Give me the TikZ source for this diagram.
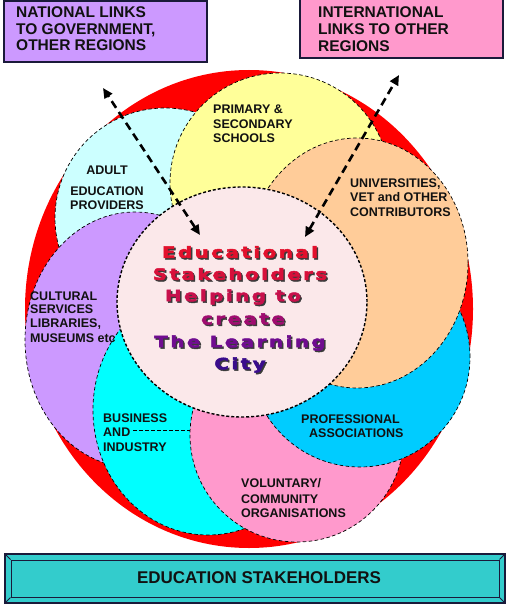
\documentclass[tikz,border=0pt]{standalone}
\usepackage{fontspec}
\setmainfont{Liberation Sans}
\newfontfamily\heavyfont{DejaVu Sans}[LetterSpace=16,FakeBold=3,FakeStretch=1.28]
\usetikzlibrary{arrows.meta}
\definecolor{ringred}{HTML}{FF0000}
\definecolor{adultc}{HTML}{CCFFFF}
\definecolor{yellowc}{HTML}{FFFF99}
\definecolor{peachc}{HTML}{FFCC99}
\definecolor{bluec}{HTML}{00CCFF}
\definecolor{pinkc}{HTML}{FF99CC}
\definecolor{cyanc}{HTML}{00FFFF}
\definecolor{purplec}{HTML}{CC99FF}
\definecolor{hubc}{HTML}{FBE8EA}
\definecolor{tealc}{HTML}{33CCCC}
\definecolor{navyline}{HTML}{1A1A3A}
\definecolor{labelc}{HTML}{111111}
\definecolor{shadowc}{HTML}{3A3A3A}
\definecolor{tA}{HTML}{E3102C}
\definecolor{tB}{HTML}{D8103A}
\definecolor{tC}{HTML}{C8104C}
\definecolor{tD}{HTML}{A00C70}
\definecolor{tE}{HTML}{700C90}
\definecolor{tF}{HTML}{3A0C8C}
\tikzset{
  petal/.style={draw=black, line width=0.7pt, dash pattern=on 3.5pt off 2.5pt},
  hub/.style={draw=black, fill=hubc, line width=1.4pt, dash pattern=on 3pt off 2pt},
  linkarrow/.style={line width=2.6pt, dash pattern=on 8pt off 5pt,
     {Triangle[length=10pt,width=9pt]}-{Triangle[length=10pt,width=9pt]}},
  petallabel/.style={font=\bfseries\fontsize{12.5pt}{14.5pt}\selectfont, text=labelc, inner sep=0pt},
  boxlabel/.style={font=\bfseries\fontsize{15.5pt}{16.5pt}\selectfont, text=labelc, inner sep=0pt, align=left, anchor=west},
  linkbox/.style={draw=navyline, line width=2pt},
  heavy/.style={font=\heavyfont\bfseries\fontsize{15.5pt}{18pt}\selectfont, inner sep=0pt},
}
\begin{document}
\begin{tikzpicture}[x=1pt,y=-1pt]
\useasboundingbox (0,0) rectangle (508,607);

% red ring background
\fill[ringred] (249,309) ellipse [x radius=224pt, y radius=239pt];

% petals
\filldraw[petal, fill=adultc] (165,218) circle [radius=110pt];
\filldraw[petal, fill=purplec] (135,340) ellipse [x radius=110pt, y radius=128pt];
\filldraw[petal, fill=cyanc] (208,410) ellipse [x radius=115pt, y radius=125pt];
\filldraw[petal, fill=pinkc] (297,435) circle [radius=107pt];
\filldraw[petal, fill=bluec] (360,357) circle [radius=110pt];
\filldraw[petal, fill=yellowc] (280,183) circle [radius=110pt];
\filldraw[petal, fill=peachc] (357,263) ellipse [x radius=111pt, y radius=125pt];

% hub
\filldraw[hub] (242,302) ellipse [x radius=125pt, y radius=115pt];

% small dashed artifact in business petal
\draw[petal] (133,430) -- (190,430);

% petal labels
\node[petallabel, anchor=west, align=left] (primary) at (213,124) {PRIMARY \&\\SECONDARY\\SCHOOLS};
\node[petallabel, align=center] (adult) at (107,188) {ADULT\\[6pt]EDUCATION\\PROVIDERS};
\node[petallabel, anchor=west, align=left] (univ) at (350,197.5) {UNIVERSITIES,\\VET and OTHER\\CONTRIBUTORS};
\node[petallabel, anchor=west, align=left] (cultural) at (30,317) {CULTURAL\\[-2pt]SERVICES\\LIBRARIES,\\MUSEUMS etc};
\node[petallabel, anchor=west, align=left] (business) at (103,432.5) {BUSINESS\\AND\\INDUSTRY};
\node[petallabel, anchor=west, align=left] (prof) at (301,426) {PROFESSIONAL\\\hspace*{8pt}ASSOCIATIONS};
\node[petallabel, anchor=west, align=left] (volunt) at (241,498) {VOLUNTARY/\\[1.5pt]COMMUNITY\\ORGANISATIONS};

% hub title (shadow then colour)
\node[heavy, text=shadowc] (s1) at (241.5,253.5) {Educational};
\node[heavy, text=tA] (t1) at (240,252) {Educational};
\node[heavy, text=shadowc] (s2) at (241.5,275.5) {Stakeholders};
\node[heavy, text=tB] (t2) at (240,274) {Stakeholders};
\node[heavy, text=shadowc] (s3) at (234.5,298.5) {Helping to};
\node[heavy, text=tC] (t3) at (233,297) {Helping to};
\node[heavy, text=shadowc] (s4) at (244.5,320.5) {create};
\node[heavy, text=tD] (t4) at (243,319) {create};
\node[heavy, text=shadowc] (s5) at (241.5,344.5) {The Learning};
\node[heavy, text=tE] (t5) at (240,343) {The Learning};
\node[heavy, text=shadowc] (s6) at (241.5,366.5) {City};
\node[heavy, text=tF] (t6) at (240,365) {City};

% link boxes
\filldraw[linkbox, fill=purplec] (4,1) rectangle (207,62);
\node[boxlabel] (national) at (16,29) {NATIONAL LINKS\\TO GOVERNMENT,\\OTHER REGIONS};
\filldraw[linkbox, fill=pinkc] (300,-6) rectangle (503,58);
\node[boxlabel, font=\bfseries\fontsize{15.5pt}{17pt}\selectfont] (intl) at (318,29.5) {INTERNATIONAL\\LINKS TO OTHER\\REGIONS};

% link arrows
\coordinate (natTip) at (103,88);
\coordinate (natBase) at (200,235);
\coordinate (intTip) at (399,75);
\coordinate (intBase) at (305,237);
\draw[linkarrow] (natBase) -- (natTip);
\draw[linkarrow] (intBase) -- (intTip);

% bottom bevelled box
\node[draw=navyline, fill=tealc, line width=1.2pt, minimum width=500pt, minimum height=49pt, inner sep=0pt] (stake) at (255,578.5) {};
\node[draw=navyline, line width=1pt, minimum width=488pt, minimum height=37pt, inner sep=0pt] (stakein) at (255,578.5) {};
\draw[navyline, line width=1pt] (stake.north west) -- (stakein.north west);
\draw[navyline, line width=1pt] (stake.north east) -- (stakein.north east);
\draw[navyline, line width=1pt] (stake.south west) -- (stakein.south west);
\draw[navyline, line width=1pt] (stake.south east) -- (stakein.south east);
\node[font=\bfseries\fontsize{17pt}{19pt}\selectfont, text=labelc, inner sep=0pt] (stakelabel) at (259,577.5) {EDUCATION STAKEHOLDERS};
\end{tikzpicture}
\end{document}
